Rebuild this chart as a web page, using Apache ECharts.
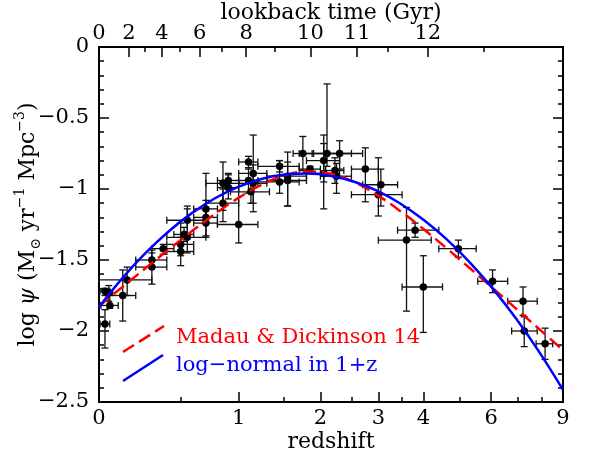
<!DOCTYPE html>
<html>
<head>
<meta charset="utf-8">
<script src="https://cdn.jsdelivr.net/npm/echarts@6/dist/echarts.min.js"></script>
<style>html,body{margin:0;padding:0;background:#fff}#c{width:590px;height:454px}</style>
</head>
<body>
<div id="c"></div>
<script>
// ---- data ----
const zMid   = [0.055,0.3,0.5,0.7,1.0, 0.05, 0.125,0.3,0.5,0.7,0.9,1.1,1.45,2.1,3.0,4.0, 1.125,1.75,2.225, 2.3,3.05, 3.8,4.95,6.05,7.2,8.15, 7.25,
                0.03,0.03, 0.55,0.85,1.15,1.55,2.05, 0.55,0.85,1.15,1.55,2.05, 0.15,0.375,0.525,0.7,0.9,1.1,1.45,1.85,2.25,2.75,3.6];
const zLow   = [0.01,0.2,0.4,0.6,0.8, 0.03, 0.05,0.2,0.4,0.6,0.8,1.0,1.2,1.7,2.5,3.5, 0.92,1.62,2.08, 1.9,2.7, 3.4,4.4,5.55,6.6,7.75, 6.75,
                0.005,0.005, 0.4,0.7,1.0,1.3,1.8, 0.4,0.7,1.0,1.3,1.8, 0.0,0.3,0.45,0.6,0.8,1.0,1.2,1.7,2.0,2.5,3.0];
const zHigh  = [0.1,0.4,0.6,0.8,1.2, 0.07, 0.2,0.4,0.6,0.8,1.0,1.2,1.7,2.5,3.5,4.5, 1.33,1.88,2.37, 2.7,3.4, 4.4,5.5,6.6,7.8,8.5, 7.8,
                0.055,0.055, 0.7,1.0,1.3,1.8,2.3, 0.7,1.0,1.3,1.8,2.3, 0.3,0.45,0.6,0.8,1.0,1.2,1.7,2.0,2.5,3.0,4.2];
const logPsi = [-1.82,-1.50,-1.39,-1.20,-1.25, -1.73, -1.75,-1.55,-1.44,-1.24,-0.99,-0.94,-0.95,-0.75,-1.04,-1.69, -1.02,-0.75,-0.87, -0.75,-0.97, -1.29,-1.42,-1.65,-1.79,-2.09, -2.00,
                -1.72,-1.95, -1.34,-0.96,-0.89,-0.91,-0.89, -1.22,-1.10,-0.96,-0.94,-0.80, -1.64,-1.42,-1.32,-1.14,-0.94,-0.81,-0.84,-0.86,-0.91,-0.86,-1.36];
const errPlus  = [0.09,0.05,0.15,0.31,0.31, 0.05, 0.18,0.12,0.10,0.10,0.09,0.09,0.15,0.49,0.26,0.22, 0.08,0.12,0.09, 0.09,0.11, 0.05,0.06,0.08,0.10,0.11, 0.10,
                  0.02,0.10, 0.22,0.15,0.27,0.17,0.21, 0.08,0.10,0.13,0.13,0.18, 0.09,0.03,0.05,0.06,0.05,0.04,0.04,0.02,0.09,0.15,0.23];
const errMinus = [0.02,0.05,0.08,0.13,0.13, 0.06, 0.18,0.12,0.10,0.10,0.08,0.09,0.08,0.09,0.15,0.32, 0.08,0.12,0.09, 0.11,0.15, 0.05,0.06,0.08,0.10,0.11, 0.11,
                  0.03,0.17, 0.11,0.19,0.21,0.21,0.25, 0.11,0.13,0.20,0.18,0.15, 0.11,0.04,0.05,0.06,0.06,0.05,0.04,0.03,0.12,0.23,0.50];

// model curves, sampled on log10(1+z)
const curveLogOnePlusZ = [0,0.05,0.1,0.15,0.2,0.25,0.3,0.35,0.4,0.45,0.5,0.55,0.6,0.65,0.7,0.75,0.8,0.85,0.9,0.95,1.0];
const madauDickinsonLogPsi = [-1.825,-1.691,-1.558,-1.427,-1.298,-1.176,-1.064,-0.971,-0.904,-0.877,-0.893,-0.951,-1.043,-1.157,-1.284,-1.420,-1.560,-1.702,-1.846,-1.990,-2.135];
const logNormalLogPsi = [-1.831,-1.629,-1.452,-1.299,-1.170,-1.065,-0.985,-0.929,-0.898,-0.890,-0.908,-0.949,-1.014,-1.104,-1.219,-1.357,-1.520,-1.707,-1.918,-2.154,-2.414];

// tick labels
const redshiftMajor = [0,1,2,3,4,6,9];
const redshiftMinor = [0.5,1.5,2.5,3.5,5,7,8];
const lookbackMajor = [0,2,4,6,8,10,11,12];
const lookbackMinor = [3,5,7,9,11.5,12.5];

// ---- axis mapping helpers ----
const L = z => Math.log10(1 + z);
function lookbackGyr(z){ // flat LCDM, H0=70, Om=0.3
  const tH = 977.8/70, n = 400, h = z/n; let s = 0;
  for (let i=0;i<=n;i++){ const x=i*h; const f=1/((1+x)*Math.sqrt(0.3*Math.pow(1+x,3)+0.7));
    s += (i===0||i===n)?f:(i%2?4*f:2*f); }
  return tH*s*h/3;
}
function zFromLookback(t){ if (t<=0) return 0; let lo=0, hi=30;
  for (let k=0;k<70;k++){ const m=(lo+hi)/2; if (lookbackGyr(m)<t) lo=m; else hi=m; } return (lo+hi)/2; }

const uZMajor = redshiftMajor.map(L), uZMinor = redshiftMinor.map(L);
const uTMajor = lookbackMajor.map(t=>L(zFromLookback(t))), uTMinor = lookbackMinor.map(t=>L(zFromLookback(t)));
function nearestLabel(v, us, labels){ let b=0; for (let i=1;i<us.length;i++) if (Math.abs(us[i]-v)<Math.abs(us[b]-v)) b=i; return String(labels[b]); }

const pts = zMid.map((z,i)=>[L(z), logPsi[i], L(zLow[i]), L(zHigh[i]), logPsi[i]+errPlus[i], logPsi[i]-errMinus[i]]);
const mdLine = curveLogOnePlusZ.map((u,i)=>[u, madauDickinsonLogPsi[i]]);
const lnLine = curveLogOnePlusZ.map((u,i)=>[u, logNormalLogPsi[i]]);

const FONT = "'DejaVu Serif','Liberation Serif',serif";
const black = '#000';
const lbl = {color: black, fontFamily: FONT, fontSize: 21};
function xAx(pos, major, custom, labels, margin, extra){
  return Object.assign({
    type:'value', min:0, max:1, position: pos, nameMoveOverlap:false,
    axisLine:{show: major, onZero:false, lineStyle:{color:black, width:2}},
    axisTick:{show:true, inside:true, length: major?10:5, customValues: custom, lineStyle:{color:black, width:1.5}},
    axisLabel: major ? Object.assign({show:true, customValues: custom, margin: margin, showMinLabel:true, showMaxLabel:true,
        formatter: v => nearestLabel(v, custom, labels)}, lbl) : {show:false},
    splitLine:{show:false}
  }, extra||{});
}
function yAx(pos, labels){
  return {
    type:'value', min:-2.5, max:0, interval:0.5, position: pos, nameMoveOverlap:false,
    axisLine:{show:true, onZero:false, lineStyle:{color:black, width:2}},
    axisTick:{show:true, inside:true, length:10, lineStyle:{color:black, width:1.5}},
    minorTick:{show:true, splitNumber:5, length:5, lineStyle:{color:black, width:1.5}},
    axisLabel: labels ? Object.assign({show:true, margin:10, formatter: v => v===0 ? '0' : '\u2212' + Math.abs(v)}, lbl) : {show:false},
    splitLine:{show:false}, minorSplitLine:{show:false}
  };
}

const chart = echarts.init(document.getElementById('c'), null, {renderer:'canvas'});
const yName = '{t|log }{i|\u03c8}{t| (M}{sub|\u2299}{t| yr}{sup|\u22121}{t| Mpc}{sup|\u22123}{t|)}';
const yAxisLeft = yAx('left', true);
Object.assign(yAxisLeft, {
  name: yName, nameLocation:'middle', nameGap: 56, nameRotate: 90,
  nameTextStyle:{ rich:{
    t:{fontFamily:FONT, fontSize:22, color:black, lineHeight:30},
    i:{fontFamily:FONT, fontSize:22, fontStyle:'italic', color:black, lineHeight:30},
    sub:{fontFamily:FONT, fontSize:14, color:black, verticalAlign:'bottom'},
    sup:{fontFamily:FONT, fontSize:14, color:black, verticalAlign:'top'}
  }}
});

chart.setOption({
  animation:false,
  backgroundColor:'#fff',
  grid:{left:99, right:27, top:47, bottom:52, containLabel:false, outerBoundsMode:'none'},
  xAxis:[
    xAx('bottom', true, uZMajor, redshiftMajor, 6, {name:'redshift', nameLocation:'middle', nameGap:29,
        nameTextStyle:{color:black, fontFamily:FONT, fontSize:22}}),
    xAx('bottom', false, uZMinor, redshiftMinor, 6),
    xAx('top', true, uTMajor, lookbackMajor, 3, {name:'lookback time (Gyr)', nameLocation:'middle', nameGap:23,
        nameTextStyle:{color:black, fontFamily:FONT, fontSize:22}}),
    xAx('top', false, uTMinor, lookbackMinor, 3)
  ],
  yAxis:[ yAxisLeft, yAx('right', false) ],
  series:[
    { type:'custom', xAxisIndex:0, yAxisIndex:0, data: pts, z:1, clip:false,
      renderItem:(params, api)=>{
        const u=api.value(0), p=api.value(1), uL=api.value(2), uH=api.value(3), pH=api.value(4), pL=api.value(5);
        const l=api.coord([uL,p]), r=api.coord([uH,p]), t=api.coord([u,pH]), b=api.coord([u,pL]);
        const st={stroke:'#111', lineWidth:1.3};
        const cw=3.5;
        const ln=(x1,y1,x2,y2)=>({type:'line', shape:{x1,y1,x2,y2}, style:st});
        return {type:'group', children:[
          ln(l[0],l[1],r[0],r[1]), ln(l[0],l[1]-cw,l[0],l[1]+cw), ln(r[0],r[1]-cw,r[0],r[1]+cw),
          ln(t[0],t[1],b[0],b[1]), ln(t[0]-cw,t[1],t[0]+cw,t[1]), ln(b[0]-cw,b[1],b[0]+cw,b[1])
        ]};
      }
    },
    { type:'scatter', xAxisIndex:0, yAxisIndex:0, data: pts.map(d=>[d[0],d[1]]), symbol:'circle', symbolSize:7.5,
      itemStyle:{color:'#000', opacity:1}, z:2 },
    { type:'line', xAxisIndex:0, yAxisIndex:0, data: mdLine, smooth:0.4, showSymbol:false, z:3,
      lineStyle:{color:'#ff0000', width:2.5, type:[13,6]} },
    { type:'line', xAxisIndex:0, yAxisIndex:0, data: lnLine, smooth:0.4, showSymbol:false, z:4,
      lineStyle:{color:'#0000ff', width:2.5} }
  ],
  graphic:[
    {type:'line', shape:{x1:123,y1:352,x2:164,y2:326}, style:{stroke:'#ff0000', lineWidth:2.5, lineDash:[13,6]}, z:10},
    {type:'line', shape:{x1:123,y1:381,x2:163,y2:355}, style:{stroke:'#0000ff', lineWidth:2.5}, z:10},
    {type:'text', style:{text:'Madau & Dickinson 14', x:176, y:338, fill:'#ff0000', font:"21px 'DejaVu Serif'", align:'left', verticalAlign:'middle'}, z:10},
    {type:'text', style:{text:'log\u2212normal in 1+z', x:176, y:366, fill:'#0000ff', font:"21px 'DejaVu Serif'", align:'left', verticalAlign:'middle'}, z:10}
  ]
});
</script>
</body>
</html>
